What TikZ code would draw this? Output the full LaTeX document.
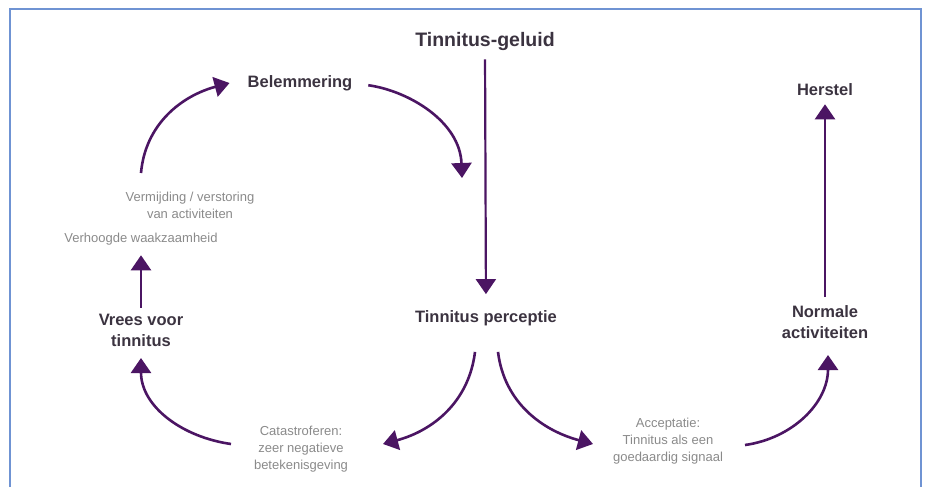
\documentclass[tikz,border=0pt]{standalone}
\usepackage{fontspec}
\setmainfont{Liberation Sans}
\usepackage{xcolor}
\usetikzlibrary{positioning,arrows.meta}
\definecolor{arrowpurple}{HTML}{4B1563}
\definecolor{labeltext}{HTML}{3B3340}
\definecolor{notetext}{HTML}{8A8A8A}
\definecolor{frameblue}{HTML}{6F93D3}
\begin{document}
\begin{tikzpicture}[x=1pt,y=1pt,
  mainlabel/.style={text=labeltext,font=\fontsize{16.5}{21}\selectfont\bfseries,align=center},
  toplabel/.style={text=labeltext,font=\fontsize{19.5}{23}\selectfont\bfseries},
  notelabel/.style={text=notetext,font=\fontsize{13}{17}\selectfont,align=center},
  flowarrow/.style={draw=arrowpurple,line width=2.6pt,-{Triangle[width=20pt,length=15pt]}},
  straightarrow/.style={flowarrow,line width=2.2pt}]
\tikzstyle{every node}+=[inner sep=0pt]
\useasboundingbox (0,0) rectangle (925,-487);
\draw [frameblue,line width=2pt] (10,-487) -- (10,-9) -- (921,-9) -- (921,-487);
% labels
\node [toplabel] (geluid) at (485,-42) {Tinnitus-geluid};
\node [mainlabel] (bel) at (300,-83) {Belemmering};
\node [mainlabel] (herstel) at (825,-90) {Herstel};
\node [notelabel] (verm) at (190,-205) {Vermijding / verstoring\\van activiteiten};
\node [notelabel] (waak) at (141,-239) {Verhoogde waakzaamheid};
\node [mainlabel] (vrees) at (141,-330) {Vrees voor\\tinnitus};
\node [mainlabel] (perc) at (486,-318) {Tinnitus perceptie};
\node [mainlabel] (norm) at (825,-322) {Normale\\activiteiten};
\node [notelabel] (cat) at (301,-449) {Catastroferen:\\zeer negatieve\\betekenisgeving};
\node [notelabel] (acc) at (668,-441) {Acceptatie:\\Tinnitus als een\\goedaardig signaal};
% free ends of the curved arrows
\coordinate (vermtop) at (141,-173);
\coordinate (beltip) at (462,-178);
\coordinate (cattip) at (383,-444);
\coordinate (acctip) at (593,-444);
\coordinate (vreestip) at (141,-358);
\coordinate (normtip) at (828,-355);
% straight arrows
\draw [straightarrow,shorten <=8pt,shorten >=16pt] (geluid.south) -- (perc.north);
\draw [straightarrow,shorten <=8pt,shorten >=8pt] (norm.north) -- (herstel.south);
\draw [straightarrow,shorten <=6pt,shorten >=10pt] (vrees.north) -- (waak.south);
% curved arrows
\draw [flowarrow] (vermtop) to [out=85,in=195] ([xshift=-18pt]bel.west);
\draw [flowarrow,shorten <=16pt] (bel.east) to [out=-8,in=92] (beltip);
\draw [flowarrow] ([xshift=-11pt,yshift=-26pt]perc.south) to [out=-97,in=15] (cattip);
\draw [flowarrow] ([xshift=12pt,yshift=-26pt]perc.south) to [out=-83,in=165] (acctip);
\draw [flowarrow] ([xshift=-70pt,yshift=5pt]cat.center) to [out=172,in=-90] (vreestip);
\draw [flowarrow] ([xshift=77pt,yshift=-4pt]acc.center) to [out=8,in=-90] (normtip);
\end{tikzpicture}
\end{document}
